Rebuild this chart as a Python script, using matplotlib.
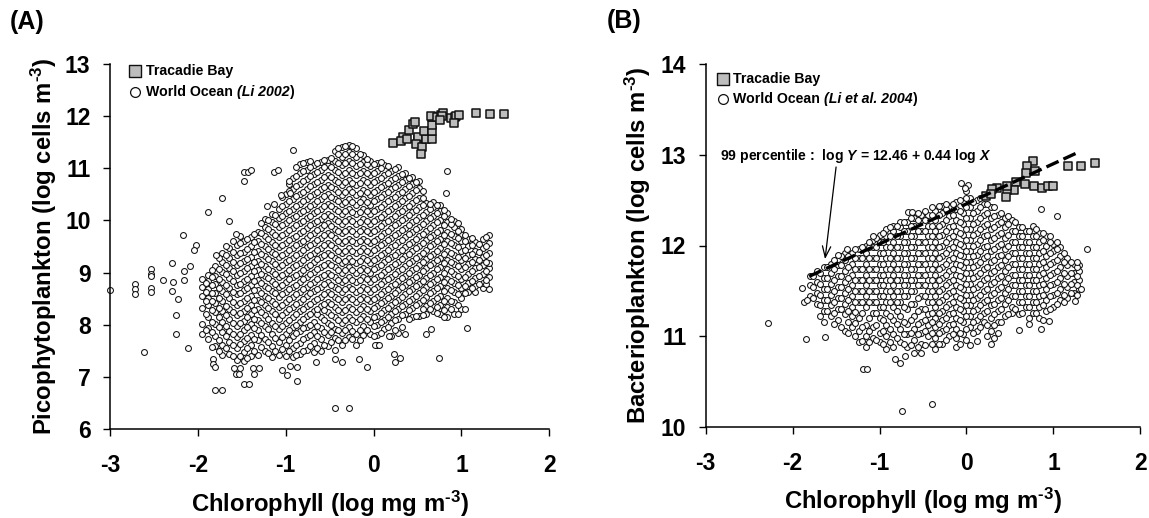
import matplotlib
matplotlib.use('Agg')
import matplotlib.pyplot as plt

plt.rcParams['font.family'] = ['Liberation Sans', 'DejaVu Sans']
plt.rcParams['font.weight'] = 'bold'
plt.rcParams['axes.unicode_minus'] = False
plt.rcParams['mathtext.fontset'] = 'custom'
plt.rcParams['mathtext.rm'] = 'Liberation Sans:bold'
plt.rcParams['mathtext.it'] = 'Liberation Sans:italic:bold'
plt.rcParams['mathtext.bf'] = 'Liberation Sans:bold'

# values, by chlorophyll column
ocean_a = [
    (-1.95, [7.82, 8.02, 8.33, 8.56, 8.72, 8.87]),
    (-1.88, [7.72, 7.94, 8.15, 8.37, 8.52, 8.68, 8.84, 8.95]),
    (-1.8, [7.6, 7.78, 8.02, 8.24, 8.41, 8.6, 8.78, 8.93, 9.12]),
    (-1.72, [7.42, 7.62, 7.87, 8.06, 8.26, 8.45, 8.64, 8.82, 9.01, 9.2, 9.38]),
    (-1.64, [7.45, 7.68, 7.88, 8.12, 8.3, 8.52, 8.7, 8.9, 9.08, 9.27, 9.46]),
    (-1.56, [7.33, 7.56, 7.76, 7.97, 8.18, 8.37, 8.58, 8.76, 8.95, 9.15, 9.33, 9.52]),
    (-1.48, [7.3, 7.48, 7.69, 7.9, 8.08, 8.27, 8.46, 8.66, 8.84, 9.03, 9.22, 9.4, 9.6]),
    (-1.4, [7.4, 7.62, 7.8, 8.01, 8.2, 8.38, 8.56, 8.76, 8.93, 9.12, 9.3, 9.5, 9.68]),
    (-1.32, [7.42, 7.7, 7.9, 8.1, 8.3, 8.48, 8.66, 8.85, 9.04, 9.22, 9.41, 9.6, 9.78]),
    (-1.24, [7.5, 7.72, 7.98, 8.18, 8.38, 8.56, 8.75, 8.94, 9.12, 9.31, 9.5, 9.7, 9.87, 10.02]),
    (-1.16, [7.38, 7.6, 7.82, 8.04, 8.27, 8.46, 8.65, 8.84, 9.02, 9.22, 9.4, 9.58, 9.78, 9.96, 10.12]),
    (-1.08, [7.42, 7.68, 7.92, 8.12, 8.34, 8.54, 8.73, 8.92, 9.11, 9.3, 9.49, 9.68, 9.87, 10.05, 10.22]),
    (-1.0, [7.4, 7.62, 7.82, 8.03, 8.24, 8.44, 8.63, 8.82, 9.0, 9.2, 9.38, 9.57, 9.76, 9.95, 10.13, 10.32, 10.5]),
    (-0.92, [7.38, 7.56, 7.78, 7.96, 8.14, 8.34, 8.54, 8.72, 8.91, 9.1, 9.28, 9.47, 9.66, 9.85, 10.04, 10.22, 10.41, 10.6, 10.8]),
    (-0.84, [7.44, 7.66, 7.88, 8.06, 8.26, 8.44, 8.63, 8.82, 9.0, 9.19, 9.38, 9.56, 9.75, 9.94, 10.13, 10.32, 10.5, 10.7, 10.9, 11.08]),
    (-0.76, [7.52, 7.76, 7.96, 8.16, 8.36, 8.55, 8.73, 8.92, 9.1, 9.29, 9.48, 9.66, 9.85, 10.04, 10.22, 10.41, 10.6, 10.79, 10.97, 11.12]),
    (-0.68, [7.48, 7.66, 7.86, 8.06, 8.26, 8.45, 8.64, 8.82, 9.01, 9.2, 9.38, 9.57, 9.76, 9.94, 10.13, 10.32, 10.5, 10.7, 10.88, 11.06]),
    (-0.6, [7.5, 7.72, 7.94, 8.14, 8.35, 8.54, 8.73, 8.91, 9.1, 9.29, 9.47, 9.66, 9.85, 10.03, 10.22, 10.41, 10.59, 10.78, 10.97, 11.12]),
    (-0.52, [7.6, 7.8, 8.04, 8.24, 8.44, 8.63, 8.82, 9.0, 9.19, 9.38, 9.56, 9.75, 9.94, 10.12, 10.31, 10.5, 10.68, 10.87, 11.05, 11.16]),
    (-0.44, [7.52, 7.74, 7.92, 8.14, 8.34, 8.54, 8.72, 8.91, 9.1, 9.28, 9.47, 9.66, 9.84, 10.03, 10.22, 10.4, 10.59, 10.78, 10.96, 11.14, 11.32]),
    (-0.36, [7.62, 7.84, 8.04, 8.24, 8.44, 8.63, 8.81, 9.0, 9.19, 9.37, 9.56, 9.75, 9.93, 10.12, 10.31, 10.49, 10.68, 10.87, 11.05, 11.22, 11.4]),
    (-0.28, [7.76, 7.96, 8.15, 8.34, 8.54, 8.72, 8.91, 9.1, 9.28, 9.47, 9.65, 9.84, 10.03, 10.21, 10.4, 10.59, 10.77, 10.96, 11.14, 11.3, 11.44]),
    (-0.2, [7.62, 7.82, 8.05, 8.25, 8.44, 8.63, 8.81, 9.0, 9.18, 9.37, 9.56, 9.74, 9.93, 10.12, 10.3, 10.49, 10.68, 10.86, 11.04, 11.22, 11.38]),
    (-0.12, [7.8, 7.98, 8.16, 8.35, 8.54, 8.72, 8.91, 9.09, 9.28, 9.47, 9.65, 9.84, 10.02, 10.21, 10.4, 10.58, 10.77, 10.95, 11.12, 11.24]),
    (-0.04, [7.82, 8.06, 8.26, 8.45, 8.63, 8.82, 9.0, 9.19, 9.37, 9.56, 9.75, 9.93, 10.12, 10.3, 10.49, 10.68, 10.86, 11.04, 11.14]),
    (0.04, [7.62, 7.8, 8.0, 8.17, 8.36, 8.54, 8.73, 8.91, 9.1, 9.28, 9.47, 9.65, 9.84, 10.03, 10.21, 10.4, 10.58, 10.77, 10.95, 11.1]),
    (0.12, [7.92, 8.1, 8.28, 8.46, 8.64, 8.83, 9.01, 9.2, 9.38, 9.57, 9.75, 9.94, 10.12, 10.31, 10.5, 10.68, 10.86, 11.06]),
    (0.2, [7.78, 8.04, 8.2, 8.38, 8.56, 8.74, 8.92, 9.11, 9.29, 9.48, 9.66, 9.85, 10.03, 10.22, 10.4, 10.59, 10.77, 10.94]),
    (0.28, [7.84, 8.12, 8.3, 8.48, 8.66, 8.84, 9.02, 9.21, 9.39, 9.58, 9.76, 9.95, 10.13, 10.32, 10.5, 10.68, 10.84, 11.02]),
    (0.36, [7.82, 8.2, 8.4, 8.58, 8.76, 8.94, 9.12, 9.31, 9.49, 9.68, 9.86, 10.05, 10.23, 10.42, 10.6, 10.78, 10.9]),
    (0.44, [8.14, 8.32, 8.5, 8.68, 8.86, 9.04, 9.22, 9.41, 9.59, 9.78, 9.96, 10.15, 10.33, 10.52, 10.7, 10.82]),
    (0.52, [8.16, 8.42, 8.6, 8.78, 8.96, 9.14, 9.32, 9.51, 9.69, 9.88, 10.06, 10.25, 10.43, 10.62, 10.76]),
    (0.6, [8.2, 8.36, 8.54, 8.72, 8.9, 9.08, 9.26, 9.44, 9.62, 9.8, 9.98, 10.16, 10.33]),
    (0.68, [8.26, 8.46, 8.64, 8.82, 9.0, 9.18, 9.36, 9.54, 9.72, 9.9, 10.08, 10.26, 10.35]),
    (0.76, [8.2, 8.38, 8.56, 8.74, 8.92, 9.1, 9.28, 9.46, 9.64, 9.82, 10.0, 10.18, 10.3]),
    (0.84, [8.14, 8.34, 8.52, 8.7, 8.88, 9.06, 9.24, 9.42, 9.6, 9.78, 9.96, 10.14]),
    (0.92, [8.2, 8.44, 8.62, 8.8, 8.98, 9.16, 9.34, 9.52, 9.7, 9.88, 9.98]),
    (1.0, [8.3, 8.52, 8.7, 8.88, 9.06, 9.24, 9.42, 9.6, 9.74, 9.84]),
    (1.08, [8.62, 8.8, 8.98, 9.16, 9.34, 9.5, 9.64]),
    (1.16, [8.62, 8.74, 8.9, 9.08, 9.26, 9.42, 9.58]),
    (1.24, [8.7, 8.8, 8.98, 9.14, 9.3, 9.46, 9.64]),
    (1.31, [8.69, 8.92, 9.08, 9.18, 9.38, 9.56, 9.72]),
]
# second pass over the same cloud, the denser marks between those columns
ocean_a2 = [
    (-1.91, [7.9, 8.2, 8.45, 8.63, 8.8]),
    (-1.84, [7.58, 7.86, 8.06, 8.28, 8.46, 8.61, 8.76, 8.91, 9.04]),
    (-1.76, [7.5, 7.7, 7.95, 8.14, 8.33, 8.52, 8.7, 8.88, 9.07, 9.28]),
    (-1.68, [7.55, 7.78, 7.97, 8.19, 8.36, 8.58, 8.77, 8.97, 9.15, 9.33, 9.5]),
    (-1.6, [7.4, 7.61, 7.83, 8.03, 8.24, 8.43, 8.63, 8.83, 9.02, 9.21, 9.4, 9.6]),
    (-1.52, [7.4, 7.63, 7.82, 8.03, 8.22, 8.42, 8.61, 8.79, 9.0, 9.18, 9.38, 9.57, 9.7]),
    (-1.44, [7.36, 7.55, 7.75, 7.96, 8.14, 8.32, 8.52, 8.71, 8.88, 9.08, 9.26, 9.45, 9.65]),
    (-1.36, [7.5, 7.72, 7.94, 8.12, 8.29, 8.47, 8.66, 8.84, 9.03, 9.21, 9.4, 9.59, 9.74]),
    (-1.28, [7.58, 7.8, 8.04, 8.24, 8.43, 8.6, 8.8, 8.98, 9.17, 9.36, 9.55, 9.76, 9.94]),
    (-1.2, [7.46, 7.67, 7.92, 8.11, 8.33, 8.51, 8.7, 8.89, 9.07, 9.26, 9.45, 9.64, 9.83, 10.0]),
    (-1.12, [7.5, 7.75, 7.98, 8.2, 8.4, 8.6, 8.78, 8.97, 9.16, 9.35, 9.53, 9.72, 9.92, 10.1]),
    (-1.04, [7.54, 7.76, 7.98, 8.18, 8.38, 8.58, 8.77, 8.96, 9.15, 9.34, 9.53, 9.72, 9.91, 10.09, 10.28, 10.44]),
    (-0.96, [7.5, 7.7, 7.9, 8.09, 8.3, 8.49, 8.68, 8.87, 9.05, 9.24, 9.43, 9.62, 9.81, 10.0, 10.18, 10.37, 10.56, 10.7]),
    (-0.88, [7.42, 7.62, 7.84, 8.0, 8.2, 8.39, 8.58, 8.77, 8.96, 9.15, 9.33, 9.52, 9.7, 9.9, 10.09, 10.27, 10.46, 10.65, 10.85, 11.02]),
    (-0.8, [7.5, 7.72, 7.93, 8.11, 8.31, 8.5, 8.68, 8.87, 9.05, 9.24, 9.43, 9.61, 9.8, 9.99, 10.18, 10.36, 10.55, 10.75, 10.94, 11.1]),
    (-0.72, [7.6, 7.81, 8.0, 8.21, 8.4, 8.6, 8.78, 8.97, 9.15, 9.34, 9.53, 9.71, 9.9, 10.09, 10.27, 10.46, 10.65, 10.84, 11.02, 11.14]),
    (-0.64, [7.56, 7.78, 7.98, 8.2, 8.3, 8.5, 8.69, 8.87, 9.06, 9.25, 9.43, 9.62, 9.81, 9.99, 10.18, 10.37, 10.55, 10.74, 10.93, 11.09]),
    (-0.56, [7.62, 7.86, 8.09, 8.29, 8.4, 8.59, 8.78, 8.96, 9.15, 9.34, 9.52, 9.71, 9.9, 10.08, 10.27, 10.46, 10.64, 10.83, 11.02, 11.16]),
    (-0.48, [7.68, 7.87, 8.0, 8.19, 8.39, 8.58, 8.77, 8.96, 9.15, 9.33, 9.52, 9.71, 9.89, 10.08, 10.27, 10.45, 10.64, 10.83, 11.01, 11.2]),
    (-0.4, [7.7, 7.9, 8.09, 8.29, 8.49, 8.68, 8.86, 9.05, 9.24, 9.42, 9.61, 9.8, 9.98, 10.17, 10.36, 10.54, 10.73, 10.92, 11.1, 11.27, 11.38]),
    (-0.32, [7.7, 7.9, 8.1, 8.29, 8.49, 8.68, 8.86, 9.05, 9.23, 9.42, 9.61, 9.79, 9.98, 10.17, 10.35, 10.54, 10.73, 10.91, 11.1, 11.26, 11.43]),
    (-0.24, [7.72, 7.88, 8.1, 8.3, 8.49, 8.68, 8.86, 9.05, 9.23, 9.42, 9.6, 9.79, 9.98, 10.16, 10.35, 10.54, 10.72, 10.91, 11.09, 11.27, 11.42]),
    (-0.16, [7.7, 7.9, 8.11, 8.3, 8.49, 8.67, 8.86, 9.04, 9.23, 9.42, 9.6, 9.79, 9.97, 10.16, 10.35, 10.53, 10.72, 10.9, 11.08, 11.26]),
    (-0.08, [7.9, 8.12, 8.31, 8.5, 8.68, 8.87, 9.05, 9.24, 9.42, 9.61, 9.8, 9.98, 10.17, 10.35, 10.54, 10.73, 10.91, 11.08, 11.18]),
    (0.0, [7.78, 7.98, 8.14, 8.32, 8.5, 8.69, 8.87, 9.06, 9.24, 9.43, 9.61, 9.8, 9.99, 10.17, 10.36, 10.54, 10.73, 10.91, 11.08]),
    (0.08, [7.84, 8.05, 8.23, 8.41, 8.59, 8.78, 8.96, 9.15, 9.33, 9.52, 9.7, 9.89, 10.07, 10.26, 10.45, 10.63, 10.81, 11.0, 11.12]),
    (0.16, [7.96, 8.15, 8.33, 8.51, 8.69, 8.88, 9.06, 9.25, 9.43, 9.62, 9.8, 9.99, 10.17, 10.36, 10.54, 10.72, 10.9, 11.03]),
    (0.24, [7.9, 8.1, 8.26, 8.44, 8.61, 8.79, 8.97, 9.16, 9.34, 9.53, 9.71, 9.9, 10.08, 10.27, 10.45, 10.63, 10.81, 10.98]),
    (0.32, [7.96, 8.18, 8.36, 8.54, 8.72, 8.89, 9.07, 9.26, 9.44, 9.63, 9.81, 10.0, 10.18, 10.37, 10.55, 10.73, 10.88]),
    (0.4, [8.12, 8.28, 8.46, 8.64, 8.82, 9.0, 9.18, 9.36, 9.54, 9.73, 9.91, 10.1, 10.28, 10.47, 10.65, 10.8]),
    (0.48, [8.16, 8.38, 8.56, 8.74, 8.92, 9.09, 9.27, 9.46, 9.64, 9.83, 10.01, 10.2, 10.38, 10.57, 10.74]),
    (0.56, [8.18, 8.3, 8.48, 8.66, 8.84, 9.02, 9.2, 9.38, 9.56, 9.74, 9.93, 10.11, 10.29, 10.42, 10.56]),
    (0.64, [8.3, 8.42, 8.6, 8.78, 8.96, 9.14, 9.32, 9.5, 9.68, 9.86, 10.04, 10.22, 10.32]),
    (0.72, [8.22, 8.34, 8.52, 8.7, 8.88, 9.06, 9.24, 9.42, 9.6, 9.78, 9.96, 10.14, 10.3]),
    (0.8, [8.14, 8.28, 8.46, 8.64, 8.82, 9.0, 9.18, 9.36, 9.54, 9.72, 9.9, 10.08, 10.2]),
    (0.88, [8.3, 8.46, 8.66, 8.84, 9.02, 9.2, 9.38, 9.56, 9.74, 9.92, 10.02]),
    (0.96, [8.2, 8.38, 8.58, 8.76, 8.94, 9.12, 9.3, 9.48, 9.66, 9.8, 9.94]),
    (1.04, [8.3, 8.6, 8.74, 8.92, 9.1, 9.28, 9.44, 9.6, 9.72]),
    (1.12, [8.7, 8.84, 9.02, 9.2, 9.36, 9.52, 9.66]),
    (1.2, [8.78, 8.94, 9.1, 9.24, 9.4, 9.54]),
    (1.28, [8.78, 8.86, 9.02, 9.2, 9.34, 9.5, 9.68]),
]
outlier_a_x = [-0.92, -1.48, -1.48, -1.43, -1.39, -1.13, -1.09, -0.96, -1.05, -0.95, -1.72, -1.89, -1.65, -2.17,
               -2.02, -2.04, -1.79, -1.57, 0.84, 0.82, -1.21, -1.13, -3.0, -2.71, -2.71, -2.71, -2.53, -2.53,
               -2.53, -2.53, -2.53, -2.4, -2.3, -2.28, -2.3, -2.16, -2.09, -2.16, -2.23, -2.25, -2.25, -2.11,
               -2.61, -1.83, -1.83, -1.8, -1.8, -1.73, -1.48, -1.42, -1.59, -1.52, -1.57, -1.53, -1.37, -1.3,
               -1.36, -1.04, -0.98, -0.95, -0.87, -0.87, -0.44, -0.28, -0.66, -0.44, -0.36, -0.17, -0.08, 0.23,
               0.24, 0.3, 0.74, 0.02, 0.06, 1.06, 0.6, 0.65, 0.18]
outlier_a_y = [11.35, 10.76, 10.93, 10.93, 10.97, 10.93, 10.97, 10.76, 10.48, 10.52, 10.42, 10.16, 9.98, 9.71,
               9.53, 9.44, 9.33, 9.74, 10.95, 10.52, 10.27, 10.32, 8.66, 8.79, 8.69, 8.59, 9.07, 8.98,
               8.94, 8.71, 8.62, 8.86, 9.19, 8.81, 8.64, 9.02, 9.13, 8.86, 8.5, 8.18, 7.83, 7.56,
               7.47, 7.35, 7.25, 7.19, 6.76, 6.76, 6.87, 6.87, 7.17, 7.17, 7.05, 7.05, 7.18, 7.17,
               7.05, 7.14, 7.04, 7.21, 7.19, 6.92, 6.41, 6.41, 7.28, 7.34, 7.28, 7.35, 7.19, 7.45,
               7.29, 7.36, 7.37, 7.62, 7.62, 7.93, 7.82, 7.91, 7.78]
bay_a_x = [0.22, 0.33, 0.31, 0.38, 0.4, 0.45, 0.47, 0.5, 0.5, 0.48, 0.55, 0.54, 0.6, 0.57, 0.67, 0.67, 0.67, 0.66,
           0.65, 0.72, 0.77, 0.79, 0.78, 0.76, 0.88, 0.93, 0.94, 0.97, 0.92, 1.17, 1.32, 1.48]
bay_a_y = [11.47, 11.6, 11.52, 11.55, 11.72, 11.85, 11.88, 11.55, 11.6, 11.45, 11.4, 11.27, 11.55, 11.7, 11.55, 11.7,
           11.83, 11.98, 12.0, 11.97, 12.02, 12.05, 12.0, 11.92, 11.95, 11.98, 12.0, 12.01, 11.87, 12.05, 12.03, 12.03]

ocean_b = [
    (-1.8, [11.44, 11.56, 11.66]),
    (-1.72, [11.36, 11.48, 11.6, 11.72]),
    (-1.64, [11.16, 11.28, 11.4, 11.52, 11.64, 11.76]),
    (-1.56, [11.22, 11.34, 11.46, 11.58, 11.7, 11.8]),
    (-1.48, [11.18, 11.3, 11.42, 11.54, 11.66, 11.78, 11.85]),
    (-1.4, [11.06, 11.24, 11.36, 11.48, 11.6, 11.72, 11.84, 11.92]),
    (-1.32, [11.1, 11.22, 11.32, 11.44, 11.56, 11.68, 11.8, 11.92]),
    (-1.24, [10.94, 11.06, 11.2, 11.38, 11.5, 11.62, 11.74, 11.86, 11.96]),
    (-1.16, [10.88, 11.0, 11.12, 11.32, 11.44, 11.56, 11.68, 11.8, 11.92, 12.0]),
    (-1.08, [10.98, 11.1, 11.26, 11.38, 11.5, 11.62, 11.74, 11.86, 11.98, 12.06]),
    (-1.0, [10.94, 11.04, 11.2, 11.32, 11.44, 11.56, 11.68, 11.8, 11.92, 12.04, 12.12]),
    (-0.92, [10.86, 11.0, 11.12, 11.26, 11.38, 11.5, 11.62, 11.74, 11.86, 11.98, 12.1, 12.18]),
    (-0.84, [10.88, 11.02, 11.18, 11.32, 11.44, 11.56, 11.68, 11.8, 11.92, 12.04, 12.16, 12.22]),
    (-0.76, [10.94, 11.08, 11.22, 11.38, 11.5, 11.62, 11.74, 11.86, 11.98, 12.1, 12.2, 12.26]),
    (-0.68, [10.88, 11.02, 11.14, 11.3, 11.44, 11.56, 11.68, 11.8, 11.92, 12.04, 12.16, 12.26]),
    (-0.6, [10.82, 10.96, 11.08, 11.22, 11.36, 11.5, 11.62, 11.74, 11.86, 11.98, 12.1, 12.22, 12.3]),
    (-0.52, [10.82, 10.92, 11.04, 11.16, 11.3, 11.44, 11.56, 11.68, 11.8, 11.92, 12.04, 12.16, 12.28, 12.34]),
    (-0.44, [11.0, 11.12, 11.24, 11.38, 11.5, 11.62, 11.74, 11.86, 11.98, 12.1, 12.22, 12.34]),
    (-0.36, [10.86, 10.98, 11.1, 11.2, 11.32, 11.44, 11.56, 11.68, 11.8, 11.92, 12.04, 12.16, 12.28, 12.38]),
    (-0.28, [10.92, 11.06, 11.18, 11.28, 11.4, 11.52, 11.64, 11.76, 11.88, 12.0, 12.12, 12.24, 12.36, 12.44]),
    (-0.2, [11.0, 11.12, 11.24, 11.36, 11.48, 11.6, 11.72, 11.84, 11.96, 12.08, 12.2, 12.32, 12.44]),
    (-0.12, [10.88, 10.98, 11.08, 11.2, 11.32, 11.44, 11.56, 11.68, 11.8, 11.92, 12.04, 12.16, 12.28, 12.4, 12.48]),
    (-0.04, [11.02, 11.16, 11.28, 11.4, 11.52, 11.64, 11.76, 11.88, 12.0, 12.12, 12.24, 12.36, 12.48]),
    (0.04, [10.9, 11.1, 11.22, 11.34, 11.46, 11.58, 11.7, 11.82, 11.94, 12.06, 12.18, 12.3, 12.42, 12.52]),
    (0.12, [10.95, 11.06, 11.18, 11.3, 11.42, 11.54, 11.66, 11.78, 11.9, 12.02, 12.14, 12.26, 12.38, 12.5]),
    (0.2, [11.16, 11.26, 11.38, 11.5, 11.62, 11.74, 11.86, 11.98, 12.1, 12.22, 12.34, 12.46]),
    (0.28, [10.92, 11.06, 11.2, 11.34, 11.46, 11.58, 11.7, 11.82, 11.94, 12.06, 12.18, 12.3, 12.42]),
    (0.36, [11.04, 11.16, 11.28, 11.4, 11.52, 11.64, 11.76, 11.88, 12.0, 12.12, 12.24, 12.34]),
    (0.44, [11.22, 11.36, 11.48, 11.6, 11.72, 11.84, 11.96, 12.08, 12.2, 12.3]),
    (0.52, [11.26, 11.32, 11.44, 11.56, 11.68, 11.8, 11.92, 12.04, 12.16, 12.28]),
    (0.6, [11.24, 11.38, 11.5, 11.62, 11.74, 11.86, 11.98, 12.1, 12.2]),
    (0.68, [11.32, 11.44, 11.56, 11.68, 11.8, 11.92, 12.04, 12.16]),
    (0.76, [11.26, 11.38, 11.5, 11.62, 11.74, 11.86, 11.98, 12.1, 12.22]),
    (0.84, [11.2, 11.32, 11.44, 11.56, 11.68, 11.8, 11.92, 12.04, 12.14]),
    (0.92, [11.28, 11.4, 11.52, 11.64, 11.76, 11.88, 12.0, 12.1]),
    (1.0, [11.32, 11.46, 11.58, 11.7, 11.82, 11.94, 12.02]),
    (1.08, [11.4, 11.52, 11.64, 11.76, 11.88, 11.98]),
    (1.16, [11.42, 11.54, 11.66, 11.78, 11.86]),
    (1.24, [11.48, 11.6, 11.7, 11.8]),
    (1.3, [11.52, 11.62, 11.72, 11.78]),
]
ocean_b2 = [
    (-1.76, [11.42, 11.54, 11.66]),
    (-1.68, [11.22, 11.34, 11.46, 11.58, 11.7]),
    (-1.6, [11.28, 11.4, 11.52, 11.64, 11.76]),
    (-1.52, [11.14, 11.26, 11.38, 11.5, 11.62, 11.74, 11.84]),
    (-1.44, [11.1, 11.3, 11.42, 11.54, 11.66, 11.78, 11.88]),
    (-1.36, [11.04, 11.16, 11.28, 11.4, 11.52, 11.64, 11.76, 11.88]),
    (-1.28, [11.0, 11.15, 11.27, 11.38, 11.5, 11.62, 11.74, 11.86, 11.96]),
    (-1.2, [10.95, 11.1, 11.26, 11.38, 11.5, 11.62, 11.74, 11.86, 11.98]),
    (-1.12, [10.94, 11.06, 11.2, 11.38, 11.5, 11.62, 11.74, 11.86, 11.98, 12.04]),
    (-1.04, [10.96, 11.12, 11.26, 11.38, 11.5, 11.62, 11.74, 11.86, 11.98, 12.08]),
    (-0.96, [10.92, 11.06, 11.18, 11.32, 11.44, 11.56, 11.68, 11.8, 11.92, 12.04, 12.14]),
    (-0.88, [10.94, 11.08, 11.22, 11.38, 11.5, 11.62, 11.74, 11.86, 11.98, 12.1, 12.2]),
    (-0.8, [10.98, 11.14, 11.28, 11.38, 11.5, 11.62, 11.74, 11.86, 11.98, 12.1, 12.22]),
    (-0.72, [10.92, 11.02, 11.16, 11.32, 11.44, 11.56, 11.68, 11.8, 11.92, 12.04, 12.16, 12.26]),
    (-0.64, [10.9, 11.04, 11.18, 11.36, 11.5, 11.62, 11.74, 11.86, 11.98, 12.1, 12.22, 12.3]),
    (-0.56, [10.88, 11.02, 11.14, 11.28, 11.42, 11.56, 11.68, 11.8, 11.92, 12.04, 12.16, 12.28, 12.36]),
    (-0.48, [10.9, 11.06, 11.18, 11.3, 11.44, 11.56, 11.68, 11.8, 11.92, 12.04, 12.16, 12.28, 12.38]),
    (-0.4, [10.92, 11.04, 11.16, 11.26, 11.38, 11.5, 11.62, 11.74, 11.86, 11.98, 12.1, 12.22, 12.34, 12.42]),
    (-0.32, [10.92, 11.04, 11.14, 11.26, 11.38, 11.5, 11.62, 11.74, 11.86, 11.98, 12.1, 12.22, 12.34, 12.44]),
    (-0.24, [10.96, 11.08, 11.2, 11.32, 11.44, 11.56, 11.68, 11.8, 11.92, 12.04, 12.16, 12.28, 12.4, 12.46]),
    (-0.16, [11.02, 11.14, 11.26, 11.38, 11.5, 11.62, 11.74, 11.86, 11.98, 12.1, 12.22, 12.34, 12.46]),
    (-0.08, [10.92, 11.04, 11.18, 11.3, 11.42, 11.54, 11.66, 11.78, 11.9, 12.02, 12.14, 12.26, 12.38, 12.5]),
    (0.0, [10.96, 11.08, 11.22, 11.34, 11.46, 11.58, 11.7, 11.82, 11.94, 12.06, 12.18, 12.3, 12.42, 12.52]),
    (0.08, [11.04, 11.16, 11.28, 11.4, 11.52, 11.64, 11.76, 11.88, 12.0, 12.12, 12.24, 12.36, 12.48]),
    (0.16, [11.1, 11.22, 11.34, 11.46, 11.58, 11.7, 11.82, 11.94, 12.06, 12.18, 12.3, 12.42, 12.52]),
    (0.24, [11.0, 11.12, 11.28, 11.4, 11.52, 11.64, 11.76, 11.88, 12.0, 12.12, 12.24, 12.36, 12.46]),
    (0.32, [10.98, 11.12, 11.24, 11.36, 11.48, 11.6, 11.72, 11.84, 11.96, 12.08, 12.2, 12.32, 12.42]),
    (0.4, [11.16, 11.3, 11.42, 11.54, 11.66, 11.78, 11.9, 12.02, 12.14, 12.26, 12.36]),
    (0.48, [11.24, 11.4, 11.52, 11.64, 11.76, 11.88, 12.0, 12.12, 12.24, 12.32]),
    (0.56, [11.3, 11.44, 11.56, 11.68, 11.8, 11.92, 12.04, 12.16, 12.26]),
    (0.64, [11.26, 11.38, 11.5, 11.62, 11.74, 11.86, 11.98, 12.1, 12.2]),
    (0.72, [11.2, 11.32, 11.44, 11.56, 11.68, 11.8, 11.92, 12.04, 12.16]),
    (0.8, [11.26, 11.38, 11.5, 11.62, 11.74, 11.86, 11.98, 12.1, 12.18]),
    (0.88, [11.18, 11.34, 11.46, 11.58, 11.7, 11.82, 11.94, 12.06, 12.14]),
    (0.96, [11.3, 11.44, 11.56, 11.68, 11.8, 11.92, 12.04, 12.1]),
    (1.04, [11.36, 11.48, 11.6, 11.72, 11.84, 11.96, 12.04]),
    (1.12, [11.38, 11.46, 11.58, 11.7, 11.82, 11.92]),
    (1.2, [11.48, 11.58, 11.7, 11.82]),
    (1.27, [11.46, 11.56, 11.66, 11.76, 11.82]),
]
outlier_b_x = [-2.28, -1.85, -1.63, -1.89, -1.87, -1.84, -1.19, -1.15, -0.74, -0.4, -0.82, -0.77, -0.71, 0.61, 0.86,
               0.72, 0.95, 1.25, 1.32, -0.06, 0.0, 0.02, -0.02, 1.39, -0.67, -0.63, 1.04, 0.86, -1.38, -1.48, -1.08]
outlier_b_y = [11.15, 10.97, 10.99, 11.53, 11.38, 11.4, 10.64, 10.64, 10.18, 10.25, 10.75, 10.7, 10.78, 11.07, 11.08,
               11.14, 11.17, 11.39, 11.52, 12.69, 12.6, 12.67, 12.63, 11.96, 12.37, 12.37, 12.33, 12.4, 11.96, 11.9, 12.1]
bay_b_x = [1.48, 1.32, 1.17, 0.77, 0.7, 0.68, 0.79, 0.57, 0.67, 0.78, 0.87, 0.94, 1.0, 0.55, 0.47, 0.46, 0.35, 0.29,
           0.22, 0.28, 0.47]
bay_b_y = [12.91, 12.88, 12.88, 12.93, 12.88, 12.8, 12.82, 12.7, 12.68, 12.66, 12.63, 12.66, 12.66, 12.61, 12.61,
           12.53, 12.63, 12.62, 12.55, 12.57, 12.66]
fit_x = [-1.81, 1.27]
fit_y = [11.66, 13.02]

x_ticks = [-3, -2, -1, 0, 1, 2]
W, H = 1149, 518

def expand(cols):
    xs = []
    ys = []
    for x, col in cols:
        for y in col:
            xs.append(x)
            ys.append(y)
    return xs, ys

def panel(rect, cols, out_x, out_y, bay_x, bay_y, ylim, ylabel, ylabel_x, legend_pos, ref):
    left, right, top, bottom = rect
    ax = fig.add_axes([left / W, 1 - bottom / H, (right - left) / W, (bottom - top) / H])
    xs, ys = expand(cols)
    ax.scatter(xs + out_x, ys + out_y, s=18, c='white', edgecolors='#111111', linewidths=0.75, clip_on=False, zorder=2)
    ax.scatter(bay_x, bay_y, s=32, marker='s', c='#bdbdbd', edgecolors='#111111', linewidths=1.1, clip_on=False, zorder=3)
    ax.set_xlim(-3, 2)
    ax.set_ylim(*ylim)
    ax.set_xticks(x_ticks)
    ax.set_yticks(range(ylim[0], ylim[1] + 1))
    ax.tick_params(axis='x', labelsize=16.5, length=5, width=1, pad=13)
    ax.tick_params(axis='y', labelsize=16.5, length=5, width=1, pad=9)
    ax.spines['top'].set_visible(False)
    ax.spines['right'].set_visible(False)
    ax.spines['left'].set_linewidth(1.1)
    ax.spines['bottom'].set_linewidth(1.1)
    ax.set_xlabel(r'Chlorophyll (log mg m$^{\text{-3}}$)', fontsize=17.2, fontweight='bold')
    ax.xaxis.set_label_coords(0.5, -0.163)
    ax.set_ylabel(ylabel, fontsize=17.2, fontweight='bold')
    ax.yaxis.set_label_coords(ylabel_x, 0.5)
    # legend by hand, the markers sit close to the axis
    lx, ly1, ly2, tx = legend_pos
    ax.scatter([lx], [ly1], s=65, marker='s', c='#bdbdbd', edgecolors='#111111', linewidths=1, transform=ax.transAxes, zorder=4)
    ax.scatter([lx], [ly2], s=50, c='white', edgecolors='#111111', linewidths=0.9, transform=ax.transAxes, zorder=4)
    ax.text(tx, ly1, 'Tracadie Bay', fontsize=10.2, va='center', transform=ax.transAxes)
    t1 = ax.text(tx, ly2, 'World Ocean ', fontsize=10.2, va='center', transform=ax.transAxes)
    t2 = ax.annotate(ref, xy=(1, 0.5), xycoords=t1, va='center', fontsize=10.2, style='italic')
    ax.annotate(')', xy=(1, 0.5), xycoords=t2, va='center', fontsize=10.2)
    return ax

fig = plt.figure(figsize=(W / 100, H / 100), dpi=100)

panel((110, 549.3, 63.5, 429.3), ocean_a + ocean_a2, outlier_a_x, outlier_a_y, bay_a_x, bay_a_y, (6, 13),
      r'Picophytoplankton (log cells m$^{\text{-3}}$)', -0.116, (0.057, 0.979, 0.923, 0.083), '(Li 2002')

ax2 = panel((705.7, 1140.3, 64, 427), ocean_b + ocean_b2, outlier_b_x, outlier_b_y, bay_b_x, bay_b_y, (10, 14),
            r'Bacterioplankton (log cells m$^{\text{-3}}$)', -0.121, (0.0405, 0.959, 0.904, 0.063), '(Li et al. 2004')
ax2.plot(fit_x, fit_y, color='black', lw=2.4, ls=(0, (4, 1.6)), zorder=5)
ax2.text(-2.84, 12.99, r'99 percentile :  log $\mathit{Y}$ = 12.46 + 0.44 log $\mathit{X}$', fontsize=10.1, va='center')
ax2.annotate('', xy=(-1.627, 11.85), xytext=(-1.5, 12.865),
             arrowprops=dict(arrowstyle='->,head_length=0.8,head_width=0.3', color='black', lw=0.9, shrinkA=0, shrinkB=0), zorder=6)

fig.text(10 / W, 1 - 22 / H, '(A)', fontsize=18, va='center')
fig.text(607 / W, 1 - 21 / H, '(B)', fontsize=18, va='center')

fig.savefig('out.png', dpi=100)
